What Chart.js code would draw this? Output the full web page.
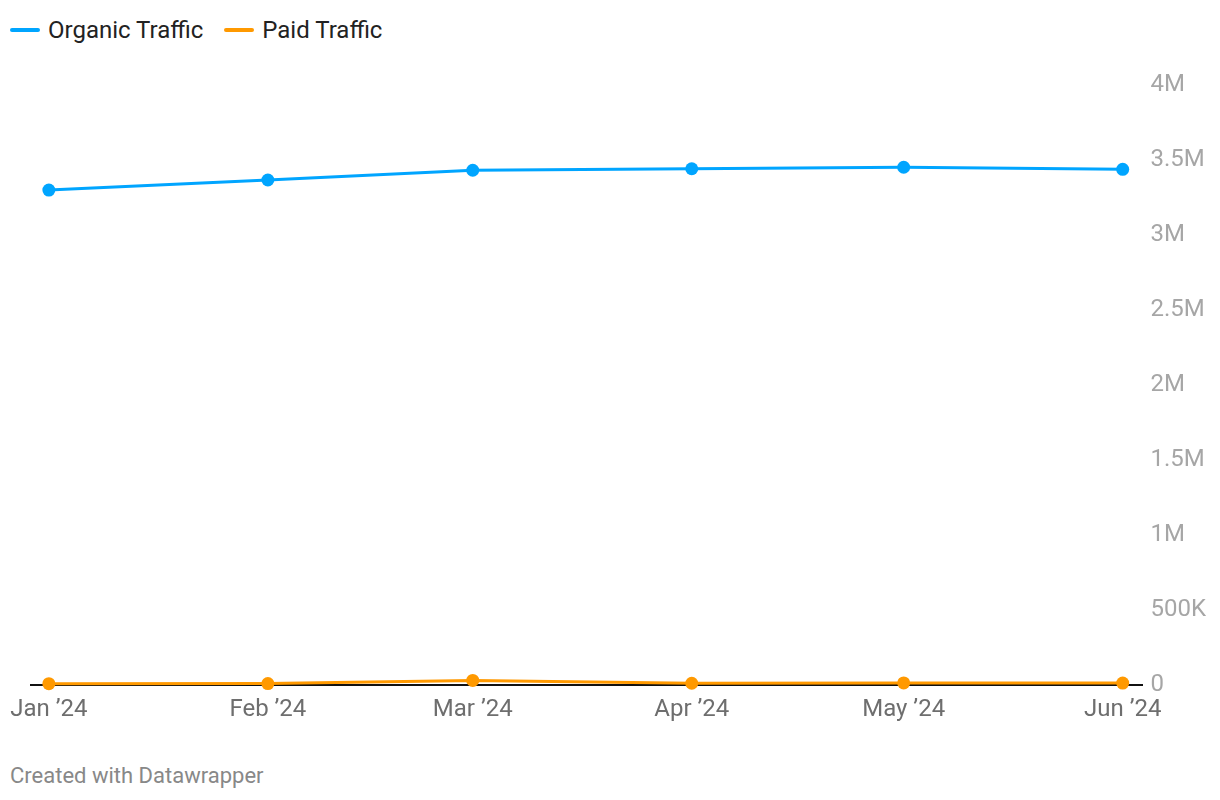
<!DOCTYPE html>
<html>
<head>
<meta charset="utf-8">
<script src="https://cdn.jsdelivr.net/npm/chart.js@4"></script>
<style>
  html, body { margin: 0; padding: 0; background: #fff; }
  body { width: 1220px; height: 800px; position: relative; font-family: Roboto, sans-serif; overflow: hidden; }
  #legend { position: absolute; left: 10px; top: 16px; display: flex; gap: 21px; font-size: 24px; color: #222; }
  #legend .item { display: flex; align-items: center; }
  #legend .swatch { width: 30px; height: 4px; border-radius: 2px; margin-right: 8px; }
  #wrap { position: absolute; left: 0; top: 0; width: 1220px; height: 734px; }
  #footer { position: absolute; left: 10px; top: 763px; font-size: 22px; color: #888; }
</style>
</head>
<body>
<div id="legend"></div>
<div id="wrap"><canvas id="chart"></canvas></div>
<div id="footer">Created with Datawrapper</div>
<script>
// === Data ===
const monthLabels = ['Jan \u201924', 'Feb \u201924', 'Mar \u201924', 'Apr \u201924', 'May \u201924', 'Jun \u201924'];
const dayOffsets = [0, 31, 60, 91, 121, 152]; // days since 1 Jan 2024
const organicTraffic = [3300000, 3367000, 3432000, 3442000, 3452000, 3438000];
const paidTraffic = [10000, 11000, 32000, 13000, 15000, 14000];
const yTicks = [0, 500000, 1000000, 1500000, 2000000, 2500000, 3000000, 3500000, 4000000];

const series = [
    { label: 'Organic Traffic', color: '#00a5ff', values: organicTraffic },
    { label: 'Paid Traffic', color: '#ff9900', values: paidTraffic }
];

// legend (html, like the original)
const legend = document.getElementById('legend');
series.forEach(s => {
    const item = document.createElement('div');
    item.className = 'item';
    item.innerHTML = `<span class="swatch" style="background:${s.color}"></span><span>${s.label}</span>`;
    legend.appendChild(item);
});

function fmtY(v) {
    if (v === 0) return '0';
    if (v < 1000000) return (v / 1000) + 'K';
    return (v / 1000000) + 'M';
}

const ctx = document.getElementById('chart').getContext('2d');
new Chart(ctx, {
    type: 'line',
    data: {
        datasets: series.map(s => ({
            label: s.label,
            data: s.values.map((v, i) => ({ x: dayOffsets[i], y: v })),
            borderColor: s.color,
            backgroundColor: s.color,
            borderWidth: 3,
            pointRadius: 6.5,
            pointHoverRadius: 6.5,
            pointBorderWidth: 0,
            tension: 0,
            clip: false
        }))
    },
    options: {
        responsive: true,
        maintainAspectRatio: false,
        animation: false,
        layout: { padding: { top: 85, left: 13, right: 6, bottom: 0 } },
        plugins: { legend: { display: false }, tooltip: { enabled: false } },
        scales: {
            x: {
                type: 'linear',
                min: -2.55,
                max: 154.8,
                afterBuildTicks: axis => { axis.ticks = dayOffsets.map(v => ({ value: v })); },
                ticks: {
                    autoSkip: false,
                    maxRotation: 0,
                    padding: 10,
                    color: '#6e6e6e',
                    font: { family: 'Roboto', size: 24 },
                    callback: v => monthLabels[dayOffsets.indexOf(v)]
                },
                grid: { display: false, drawTicks: false },
                border: { display: true, color: '#111', width: 2 }
            },
            y: {
                position: 'right',
                min: 0,
                max: 4000000,
                afterBuildTicks: axis => { axis.ticks = yTicks.map(v => ({ value: v })); },
                ticks: {
                    padding: 8,
                    color: '#a6a6a6',
                    font: { family: 'Roboto', size: 24 },
                    callback: v => fmtY(v)
                },
                grid: { display: false, drawTicks: false },
                border: { display: false }
            }
        }
    }
});
</script>
</body>
</html>
